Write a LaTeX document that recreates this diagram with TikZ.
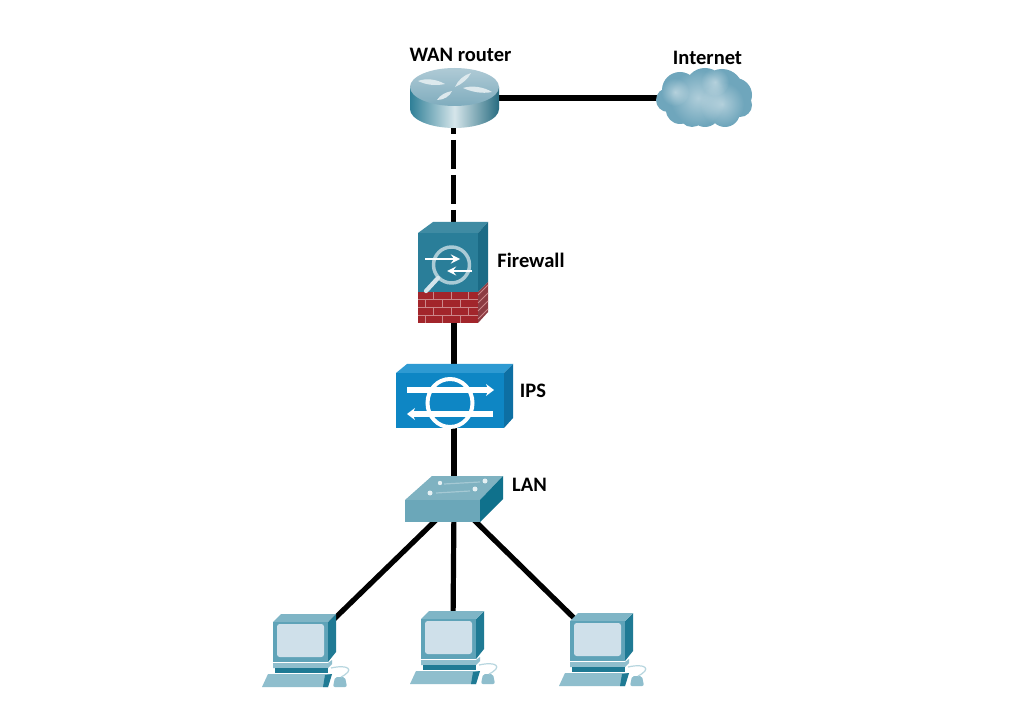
\documentclass[tikz,border=0pt]{standalone}
\usepackage{fontspec}
\setmainfont{Carlito}
\usetikzlibrary{calc,fadings,arrows.meta}
\definecolor{rtop}{HTML}{8DB4C4}
\definecolor{rside}{HTML}{2F7F97}
\definecolor{fwfront}{HTML}{2A7E99}
\definecolor{fwtop}{HTML}{3F8BA3}
\definecolor{fwside}{HTML}{1B6B86}
\definecolor{brick}{HTML}{A2252B}
\definecolor{bricks}{HTML}{8C3B42}
\definecolor{ipsfront}{HTML}{0E86C4}
\definecolor{ipstop}{HTML}{2E9AD2}
\definecolor{ipsside}{HTML}{0D6FA3}
\definecolor{swfront}{HTML}{6BA7B9}
\definecolor{swtop}{HTML}{7FB2C1}
\definecolor{swside}{HTML}{0F718C}
\definecolor{pcfront}{HTML}{5FA3B8}
\definecolor{pcscreen}{HTML}{CFE0EA}
\definecolor{pcside}{HTML}{1F7A94}
\definecolor{cloud}{HTML}{6FA6BC}
\tikzfading[name=softspot,inner color=transparent!55,outer color=transparent!100]
\tikzset{
 x=0.75pt,y=-0.75pt,
 link/.style={draw=black,line width=3.9pt},
 dashlink/.style={link,dash pattern=on 21.75pt off 4.5pt,dash phase=21pt},
 lbl/.style={font=\bfseries\fontsize{15.4}{17}\selectfont,text=black,inner sep=0pt},
 anchorbox/.style={inner sep=0pt,outer sep=0pt,minimum width=#1},
 blotch/.style={fill=white,path fading=softspot},
 pc/.pic={
  \fill[pcside] (55,8)--(63,0)--(63,38)--(55,48)--cycle;
  \fill[pcfront!80!white] (0,8)--(8,0)--(63,0)--(55,8)--cycle;
  \fill[pcfront] (0,8) rectangle (55,48);
  \fill[pcscreen,rounded corners=2pt] (4,10) rectangle (51,43);
  \fill[pcfront!70!white] (0,49)--(55,49)--(59,46)--(59,50)--(55,54)--(0,54)--cycle;
  \fill[pcside] (2,54) rectangle (55,59);
  \fill[pcfront!70!white] (-5,60)--(59,60)--(55,73)--(-11,73)--cycle;
  \fill[pcside] (52,61)--(59,60)--(55,73)--(50,73)--cycle;
  \fill[pcfront!70!white,rounded corners=1.5pt] (62,63)--(72,63)--(74,73)--(60,73)--cycle;
  \draw[pcfront!45!white,line width=.9pt] (58,54) .. controls (76,50) and (82,56) .. (68,63);
 }
}
\begin{document}
\begin{tikzpicture}
\useasboundingbox (0,0) rectangle (1024,723);
\fill[white] (0,0) rectangle (1024,723);
% anchor nodes
\node[anchorbox=2pt] (router) at (453.5,98) {};
\node[anchorbox=2pt] (inet) at (704,98) {};
\node[anchorbox=2pt] (fw) at (453.5,272) {};
\node[anchorbox=2pt] (fwb) at (454,300) {};
\node[anchorbox=2pt] (ips) at (454,396) {};
\node[anchorbox=2pt] (lan) at (454,505) {};
\node[anchorbox=2pt] (swl) at (436,520) {};
\node[anchorbox=2pt] (swr) at (474,520) {};
\node[anchorbox=2pt] (pca) at (330,623) {};
\node[anchorbox=2pt] (pcb) at (453,625) {};
\node[anchorbox=2pt] (pcc) at (575,619) {};
% connectors
\draw[link] (router.center) -- (inet.center);
\draw[dashlink] (router.center) -- (fw.center);
\draw[link] (fwb.center) -- (ips.center);
\draw[link] (ips.center) -- (lan.center);
\draw[link] (swl.center) -- (pca.center);
\draw[link] (lan.center) -- (pcb.center);
\draw[link] (swr.center) -- (pcc.center);
% router
\shade[left color=rside,right color=rside!85!black,middle color=white!80!rside] (410,87) -- (410,109) .. controls (410,119.5) and (430,128) .. (454.5,128) .. controls (479,128) and (499,119.5) .. (499,109) -- (499,87) -- cycle;
\shade[top color=rtop!70!white,bottom color=rtop!85!rside] (410,87) .. controls (410,76.5) and (430,68) .. (454.5,68) .. controls (479,68) and (499,76.5) .. (499,87) .. controls (499,97.5) and (479,106) .. (454.5,106) .. controls (430,106) and (410,97.5) .. (410,87) -- cycle;
\begin{scope}[white!70!rtop,line cap=round,line join=round]
\fill (418,81) .. controls (426,78) and (436,79) .. (445,84) .. controls (436,86) and (426,85) .. (418,81) -- cycle;
\fill (471,73) .. controls (464,75) and (458,80) .. (455,87) .. controls (462,84) and (468,79) .. (471,73) -- cycle;
\fill (463,88) .. controls (472,85) and (484,87) .. (492,92) .. controls (482,94) and (472,92) .. (463,88) -- cycle;
\fill (452,91) .. controls (446,92) and (440,95) .. (437,100) .. controls (444,100) and (450,96) .. (452,91) -- cycle;
\end{scope}
% cloud
\fill[cloud] (680,90) circle[radius=18] (668,100) circle[radius=12] (680,110) circle[radius=14]
 (705,88) circle[radius=20] (722,90) circle[radius=21] (735,95) circle[radius=17]
 (740,105) circle[radius=12] (725,112) circle[radius=15] (705,112) circle[radius=15] (692,114) circle[radius=13];
\fill[blotch] (698,98) circle[radius=28];
\fill[blotch] (722,104) circle[radius=22];
\fill[blotch] (715,82) circle[radius=14];
\fill[blotch] (675,92) circle[radius=14];
% firewall
\fill[fwtop] (418,233)--(433,222)--(488,222)--(478,233)--cycle;
\fill[fwside] (478,233)--(488,222)--(488,282)--(478,292)--cycle;
\fill[fwfront] (418,233) rectangle (478,292);
\fill[brick] (418,292) rectangle (478,323);
\fill[bricks] (478,292)--(488,282)--(488,312)--(478,323)--cycle;
\begin{scope}[brick!55!white,line width=.7pt]
\foreach \y in {299,307,315} \draw (418,\y)--(478,\y);
\foreach \x in {433,451,468} {\draw (\x,292)--(\x,299) (\x,307)--(\x,315);}
\foreach \x in {425,442,460} {\draw (\x,299)--(\x,307) (\x,315)--(\x,323);}
\foreach \y in {292,300,308,316} \draw (478,\y+3)--(488,\y-7);
\end{scope}
\draw[white!60!fwfront,line width=2.6pt] (451.5,265) circle[radius=18];
\draw[white!80!fwfront,line width=3.2pt,line cap=round] (438,278)--(426,291);
\draw[white,line width=2pt,-stealth] (425,259)--(460,259);
\draw[white,line width=2pt,-stealth] (472,271)--(447,271);
% IPS
\fill[ipstop] (396,373)--(407,364)--(513,364)--(504,373)--cycle;
\fill[ipsside] (504,373)--(513,364)--(513,418)--(504,428)--cycle;
\fill[ipsfront] (396,373) rectangle (504,428);
\draw[white,line width=3pt] (450,403) ellipse[x radius=22.5,y radius=24];
\draw[white,line width=4.4pt,-{Stealth[length=6pt,width=9pt]}] (407,390)--(494,390);
\draw[white,line width=4.4pt,-{Stealth[length=6pt,width=9pt]}] (493,414)--(407,414);
% switch
\fill[swtop] (405,500)--(432,476)--(503,476)--(480,500)--cycle;
\fill[swside] (480,500)--(503,476)--(503,499)--(480,522)--cycle;
\fill[swfront] (405,500) rectangle (480,522);
\fill[white!80!swtop] (440,483) circle[radius=2.2] (485,481) circle[radius=2.5] (430,493) circle[radius=2.5] (475,489) circle[radius=2.5];
\draw[white!30!swtop,line width=.9pt] (444,484)--(480,482) (436,493)--(470,491);
% PCs
\pic at (273,614) {pc};
\pic at (421,611) {pc};
\pic at (570,613) {pc};
% labels
\node[lbl] (t1) at (460.5,55) {WAN router};
\node[lbl] (t2) at (707.5,58) {Internet};
\node[lbl] (t3) at (531,260) {Firewall};
\node[lbl] (t4) at (533,391) {IPS};
\node[lbl] (t5) at (529.5,484.5) {LAN};
\end{tikzpicture}
\end{document}
